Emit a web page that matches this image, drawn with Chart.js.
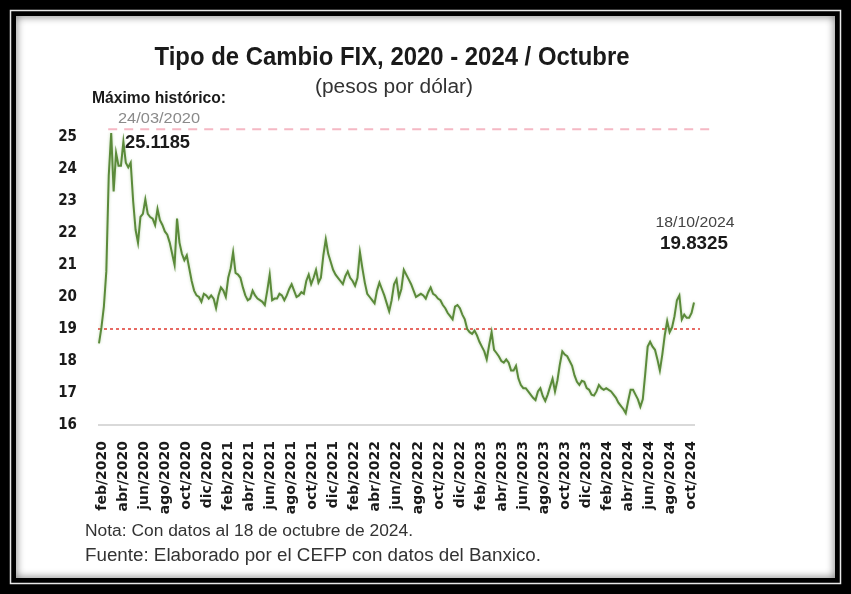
<!DOCTYPE html>
<html>
<head>
<meta charset="utf-8">
<script src="https://cdn.jsdelivr.net/npm/chart.js@4.4.1/dist/chart.umd.min.js"></script>
<style>
    html, body { margin: 0; padding: 0; background: #000; }
    #wrap { position: relative; width: 851px; height: 594px; }
</style>
</head>
<body>
<div id="wrap"><canvas id="fixChart" width="851" height="594"></canvas></div>
<script>
// Etiquetas del eje x (cada dos meses)
const tickLabels = [
    "feb/2020", "abr/2020", "jun/2020", "ago/2020", "oct/2020", "dic/2020",
    "feb/2021", "abr/2021", "jun/2021", "ago/2021", "oct/2021", "dic/2021",
    "feb/2022", "abr/2022", "jun/2022", "ago/2022", "oct/2022", "dic/2022",
    "feb/2023", "abr/2023", "jun/2023", "ago/2023", "oct/2023", "dic/2023",
    "feb/2024", "abr/2024", "jun/2024", "ago/2024", "oct/2024"
];

// Tipo de cambio FIX, valores semanales (pesos por dólar), feb/2020 - 18/oct/2024
const tipoCambio = [
    18.55, 19.05, 19.7, 20.8, 23.8, 25.12, 23.3, 24.5, 24.1, 24.1,
    24.85, 24.2, 24.05, 24.2, 23.0, 22.1, 21.7, 22.5, 22.6, 23.05,
    22.6, 22.5, 22.45, 22.25, 22.75, 22.4, 22.25, 22.05, 21.95, 21.7,
    21.35, 21.0, 22.45, 21.7, 21.35, 21.15, 21.3, 20.9, 20.5, 20.2,
    20.05, 20.0, 19.85, 20.1, 20.05, 19.95, 20.05, 19.95, 19.65, 20.05,
    20.3, 20.2, 20.0, 20.6, 20.9, 21.4, 20.75, 20.7, 20.6, 20.3,
    20.05, 19.9, 19.95, 20.2, 20.05, 19.95, 19.9, 19.85, 19.75, 20.2,
    20.7, 19.9, 19.95, 19.95, 20.1, 20.05, 19.9, 20.05, 20.25, 20.4,
    20.2, 20.0, 20.05, 20.15, 20.1, 20.5, 20.7, 20.4, 20.6, 20.85,
    20.45, 20.6, 21.3, 21.8, 21.35, 21.1, 20.85, 20.7, 20.6, 20.5,
    20.4, 20.65, 20.8, 20.6, 20.5, 20.35, 20.6, 21.4, 20.9, 20.45,
    20.1, 20.0, 19.9, 19.8, 20.2, 20.45, 20.25, 20.05, 19.8, 19.55,
    19.9, 20.4, 20.55, 20.0, 20.25, 20.85, 20.7, 20.55, 20.4, 20.2,
    20.0, 20.05, 20.1, 20.05, 19.95, 20.15, 20.3, 20.1, 20.05, 19.95,
    19.9, 19.75, 19.65, 19.5, 19.4, 19.3, 19.7, 19.75, 19.65, 19.45,
    19.3, 19.0, 18.9, 18.85, 18.95, 18.8, 18.6, 18.45, 18.3, 18.05,
    18.5, 18.9, 18.35, 18.25, 18.14, 18.0, 17.95, 18.05, 17.95, 17.7,
    17.7, 17.85, 17.45, 17.25, 17.15, 17.15, 17.05, 16.95, 16.85, 16.78,
    17.05, 17.15, 16.9, 16.75, 16.95, 17.2, 17.45, 17.05, 17.4, 17.9,
    18.3, 18.2, 18.15, 18.0, 17.85, 17.55, 17.35, 17.25, 17.38, 17.35,
    17.15, 17.1, 16.95, 16.92, 17.05, 17.25, 17.15, 17.1, 17.15, 17.1,
    17.05, 16.95, 16.85, 16.7, 16.6, 16.5, 16.37, 16.75, 17.1, 17.1,
    16.95, 16.8, 16.57, 16.8, 17.6, 18.45, 18.6, 18.45, 18.35, 18.05,
    17.7, 18.2, 18.8, 19.25, 18.9, 19.05, 19.4, 19.9, 20.05, 19.3,
    19.45, 19.35, 19.35, 19.5, 19.83
];

const maximo = 25.1185;
const fechaMaximo = "24/03/2020";
const ultimo = 19.8325;
const fechaUltimo = "18/10/2024";
const referencia = 19; // línea punteada roja

const yMin = 16;
const yMax = 25;

// dibuja texto ajustado a un ancho dado
function texto(ctx, str, x, y, font, color, ancho, align) {
    ctx.save();
    ctx.font = font;
    ctx.fillStyle = color;
    ctx.textBaseline = "alphabetic";
    const w = ctx.measureText(str).width;
    const s = ancho ? ancho / w : 1;
    const left = align === "center" ? x - (w * s) / 2 : x;
    ctx.translate(left, y);
    ctx.scale(s, 1);
    ctx.fillText(str, 0, 0);
    ctx.restore();
}

// Marco negro con doble línea
const marco = {
    id: "marco",
    beforeDraw(chart) {
        const { ctx, width: w, height: h } = chart;
        ctx.save();
        ctx.fillStyle = "#000";
        ctx.fillRect(0, 0, w, h);
        ctx.strokeStyle = "#e8e8e8";
        ctx.lineWidth = 1.5;
        ctx.strokeRect(10.5, 10.5, w - 21, h - 21);
        ctx.fillStyle = "#fff";
        ctx.fillRect(16, 16, w - 32, h - 32);
        ctx.beginPath();
        ctx.rect(16, 16, w - 32, h - 32);
        ctx.clip();
        ctx.shadowColor = "rgba(0,0,0,0.6)";
        ctx.shadowBlur = 8;
        ctx.lineWidth = 6;
        ctx.strokeStyle = "#000";
        ctx.strokeRect(13, 13, w - 26, h - 26);
        ctx.restore();
    }
};

// Líneas de referencia
const lineas = {
    id: "lineas",
    beforeDatasetsDraw(chart) {
        const { ctx, chartArea } = chart;
        const x = chart.scales.x;
        const y = chart.scales.y;
        const iMax = tipoCambio.indexOf(Math.max(...tipoCambio));
        ctx.save();
        // máximo histórico
        const yM = y.getPixelForValue(maximo) - 4;
        ctx.strokeStyle = "#f5b8c4";
        ctx.lineWidth = 2;
        ctx.setLineDash([9, 7]);
        ctx.beginPath();
        ctx.moveTo(x.getPixelForValue(iMax) - 3, yM);
        ctx.lineTo(chartArea.right + 18, yM);
        ctx.stroke();
        // 19 pesos
        const yR = y.getPixelForValue(referencia);
        ctx.strokeStyle = "#e2463f";
        ctx.lineWidth = 1.6;
        ctx.setLineDash([3, 3]);
        ctx.beginPath();
        ctx.moveTo(chartArea.left - 1, yR);
        ctx.lineTo(chartArea.right + 6, yR);
        ctx.stroke();
        ctx.restore();
    },
    beforeDatasetDraw(chart) {
        const ctx = chart.ctx;
        ctx.save();
        ctx.shadowColor = "rgba(120,170,90,0.45)";
        ctx.shadowBlur = 3;
    },
    afterDatasetDraw(chart) {
        chart.ctx.restore();
    }
};

// Títulos, anotaciones y notas
const textos = {
    id: "textos",
    afterDraw(chart) {
        const ctx = chart.ctx;
        texto(ctx, "Tipo de Cambio FIX, 2020 - 2024 / Octubre", 392, 65, "bold 26px 'Liberation Sans'", "#1a1a1a", 475, "center");
        texto(ctx, "(pesos por dólar)", 394, 93, "20px 'Liberation Sans'", "#333", 158, "center");
        texto(ctx, "Máximo histórico:", 92, 103, "bold 16px 'Liberation Sans'", "#1a1a1a", 134);
        texto(ctx, fechaMaximo, 159, 123, "15px 'Liberation Sans'", "#8a8a8a", 82, "center");
        texto(ctx, maximo.toFixed(4), 125, 148, "bold 18px 'Liberation Sans'", "#1a1a1a", 65);
        texto(ctx, fechaUltimo, 695, 227, "15px 'Liberation Sans'", "#444", 79, "center");
        texto(ctx, ultimo.toFixed(4), 694, 249, "bold 18px 'Liberation Sans'", "#1a1a1a", 68, "center");
        texto(ctx, "Nota: Con datos al 18 de octubre de 2024.", 85, 536, "16px 'Liberation Sans'", "#333", 328);
        texto(ctx, "Fuente: Elaborado por el CEFP con datos del Banxico.", 85, 561, "18px 'Liberation Sans'", "#333", 456);
    }
};

const ctx = document.getElementById("fixChart").getContext("2d");

new Chart(ctx, {
    type: "line",
    data: {
        labels: tipoCambio.map((_, i) => i),
        datasets: [
            {
                label: "Tipo de cambio FIX",
                data: tipoCambio,
                borderColor: "#5b8a3a",
                borderWidth: 2,
                pointRadius: 0,
                tension: 0,
                fill: false,
                clip: false,
                xAxisID: "x",
                yAxisID: "y",
            },
        ],
    },
    options: {
        responsive: false,
        animation: false,
        layout: { padding: { left: 0, right: 157, top: 137, bottom: 0 } },
        scales: {
            x: {
                type: "category",
                display: false,
                offset: false,
            },
            meses: {
                type: "linear",
                position: "bottom",
                min: -0.142,
                max: 28.11,
                afterFit: (scale) => { scale.height = 169; },
                grid: { display: false },
                border: { display: true, color: "#d9d9d9", width: 2 },
                ticks: {
                    stepSize: 1,
                    includeBounds: false,
                    autoSkip: false,
                    minRotation: 90,
                    maxRotation: 90,
                    padding: 8,
                    color: "#1a1a1a",
                    font: { family: "'DejaVu Sans'", size: 14, weight: "bold" },
                    callback: (v) => (Number.isInteger(v) ? tickLabels[v] : ""),
                },
            },
            y: {
                min: yMin,
                max: yMax,
                afterFit: (scale) => { scale.width = 99; },
                grid: { display: false },
                border: { display: false },
                ticks: {
                    stepSize: 1,
                    padding: 14,
                    color: "#1a1a1a",
                    font: { family: "'Liberation Sans Narrow', 'DejaVu Sans Condensed', sans-serif", size: 15, weight: "bold" },
                },
            },
        },
        plugins: {
            legend: { display: false },
            title: { display: false },
            tooltip: { enabled: false },
        },
    },
    plugins: [marco, lineas, textos],
});
</script>
</body>
</html>
